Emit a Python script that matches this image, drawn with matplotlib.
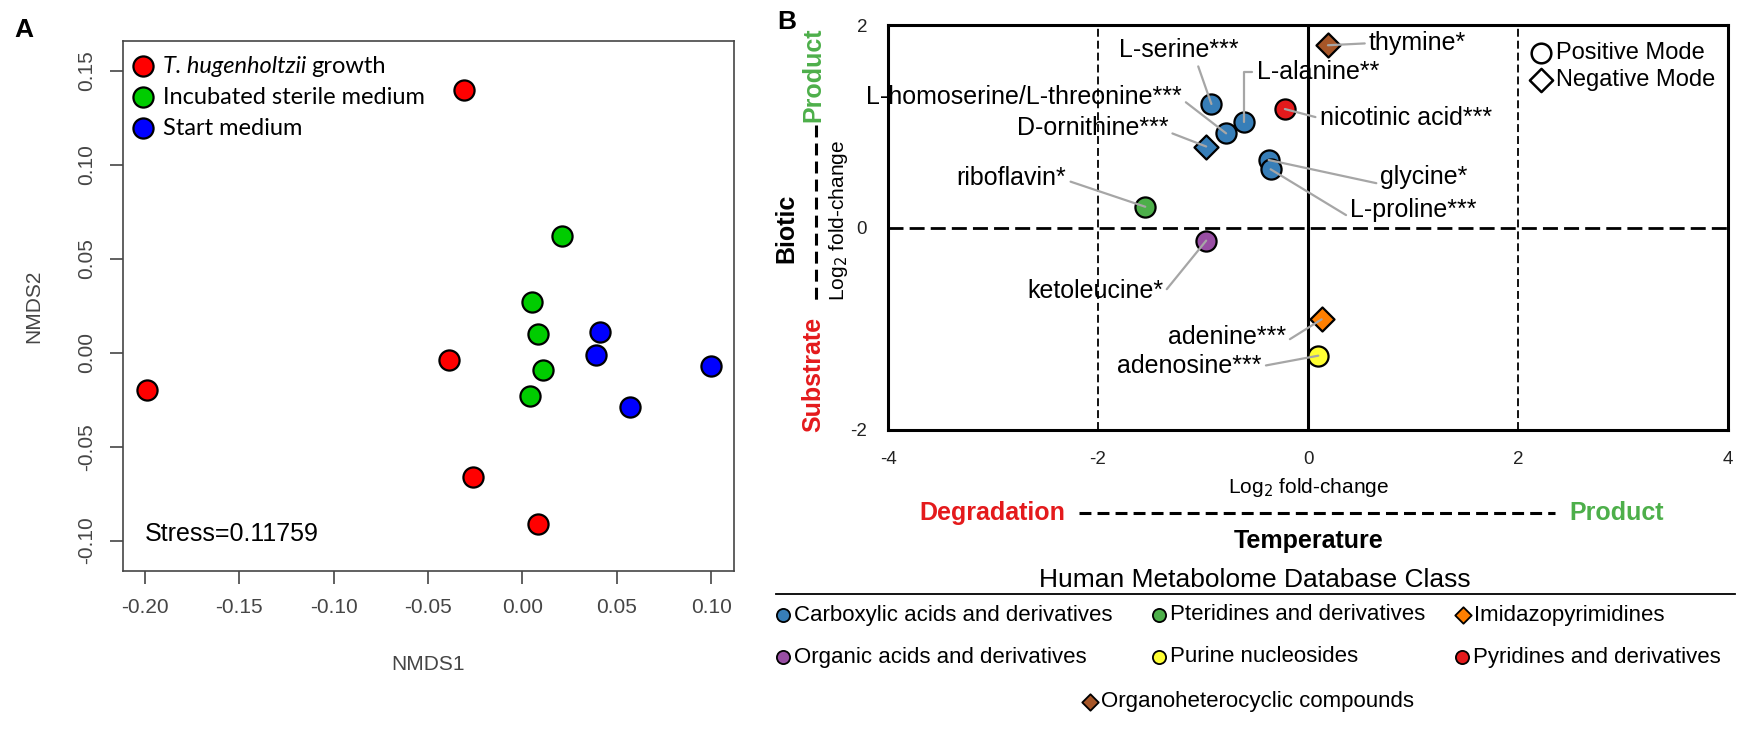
import matplotlib
matplotlib.use('Agg')
import matplotlib.pyplot as plt

plt.rcParams['font.family'] = ['Liberation Sans', 'DejaVu Sans']
plt.rcParams['axes.unicode_minus'] = False

# ---- panel A data (NMDS scores) ----
growth_x = [-0.199, -0.039, -0.031, -0.026, 0.008]
growth_y = [-0.020, -0.004, 0.140, -0.066, -0.091]
sterile_x = [0.021, 0.005, 0.008, 0.011, 0.004]
sterile_y = [0.062, 0.027, 0.010, -0.009, -0.023]
start_x = [0.041, 0.039, 0.057, 0.100]
start_y = [0.011, -0.001, -0.029, -0.007]
stress = 0.11759

# ---- panel B data (log2 fold changes) ----
met_names = ['L-serine***', 'L-alanine**', 'L-homoserine/L-threonine***', 'D-ornithine***',
             'riboflavin*', 'nicotinic acid***', 'thymine*', 'glycine*', 'L-proline***',
             'ketoleucine*', 'adenine***', 'adenosine***']
met_temp = [-0.92, -0.61, -0.78, -0.97, -1.55, -0.22, 0.19, -0.375, -0.356, -0.97, 0.13, 0.098]
met_biotic = [1.22, 1.045, 0.93, 0.80, 0.205, 1.17, 1.80, 0.667, 0.575, -0.13, -0.907, -1.266]
met_class = ['Carboxylic acids and derivatives', 'Carboxylic acids and derivatives',
             'Carboxylic acids and derivatives', 'Carboxylic acids and derivatives',
             'Pteridines and derivatives', 'Pyridines and derivatives',
             'Organoheterocyclic compounds', 'Carboxylic acids and derivatives',
             'Carboxylic acids and derivatives', 'Organic acids and derivatives',
             'Imidazopyrimidines', 'Purine nucleosides']
met_mode = ['pos', 'pos', 'pos', 'neg', 'pos', 'pos', 'neg', 'pos', 'pos', 'pos', 'neg', 'pos']

class_colors = {
    'Carboxylic acids and derivatives': '#377eb8',
    'Pteridines and derivatives': '#4daf4a',
    'Imidazopyrimidines': '#ff7f00',
    'Organic acids and derivatives': '#984ea3',
    'Purine nucleosides': '#ffff33',
    'Pyridines and derivatives': '#e41a1c',
    'Organoheterocyclic compounds': '#a65628',
}
class_marker = {'Imidazopyrimidines': 'D', 'Organoheterocyclic compounds': 'D'}

# label placement (data coords of panel B): x, y, ha, relpos, connection
straight = 'arc3'
label_pos = [(-1.23, 1.75, 'center', (0.65, 0.0), straight),
             (-0.49, 1.54, 'left', (0.0, 0.5), 'angle,angleA=0,angleB=90,rad=0'),
             (-1.20, 1.29, 'right', (1.0, 0.4), straight),
             (-1.33, 0.98, 'right', (1.0, 0.35), straight),
             (-2.30, 0.49, 'right', (1.0, 0.4), straight),
             (0.11, 1.08, 'left', (0.0, 0.5), straight),
             (0.58, 1.82, 'left', (0.0, 0.5), straight),
             (0.69, 0.50, 'left', (0.0, 0.2), straight),
             (0.40, 0.17, 'left', (0.0, 0.2), straight),
             (-1.38, -0.63, 'right', (1.0, 0.4), straight),
             (-0.21, -1.08, 'right', (1.0, 0.3), straight),
             (-0.44, -1.37, 'right', (1.0, 0.5), straight)]

W, H = 1754, 729
fig = plt.figure(figsize=(W / 100, H / 100), dpi=100)


def box(l, t, r, b):
    return [l / W, 1 - b / H, (r - l) / W, (b - t) / H]


# overlay in pixel coordinates for decorations
ov = fig.add_axes([0, 0, 1, 1], zorder=10)
ov.set_xlim(0, W)
ov.set_ylim(H, 0)
ov.axis('off')
ov.patch.set_alpha(0)

# ================= panel A =================
axA = fig.add_axes(box(123, 41, 734, 571))
grey = '#454545'
axA.scatter(growth_x, growth_y, s=210, c='#ff0000', edgecolors='k', linewidths=1.6, zorder=3)
axA.scatter(sterile_x, sterile_y, s=210, c='#00cc00', edgecolors='k', linewidths=1.6, zorder=3)
axA.scatter(start_x, start_y, s=210, c='#0000ff', edgecolors='k', linewidths=1.6, zorder=3)
axA.set_xlim(-0.2115, 0.112)
axA.set_ylim(-0.1162, 0.166)
axA.set_xticks([-0.20, -0.15, -0.10, -0.05, 0.00, 0.05, 0.10])
axA.set_xticklabels(['%.2f' % v for v in axA.get_xticks()])
axA.set_yticks([-0.10, -0.05, 0.00, 0.05, 0.10, 0.15])
axA.set_yticklabels(['%.2f' % v for v in axA.get_yticks()], rotation=90, va='center')
axA.tick_params(length=9.5, width=1.2, labelsize=15, colors=grey, pad=10)
for sp in axA.spines.values():
    sp.set_color(grey)
    sp.set_linewidth(1.2)
axA.text(0.035, 0.07, 'Stress=%.5f' % stress, transform=axA.transAxes, fontsize=18,
         va='center', ha='left')

ov.text(428, 665, 'NMDS1', ha='center', va='center', fontsize=15, color=grey)
ov.text(34, 306, 'NMDS2', ha='center', va='center', fontsize=15, color=grey, rotation=90)
ov.text(14, 30, 'A', ha='left', va='center', fontsize=19, fontweight='bold')
ov.text(777, 22, 'B', ha='left', va='center', fontsize=19, fontweight='bold')

# legend A
leg_items = [('#ff0000', None), ('#00cc00', 'Incubated sterile medium'), ('#0000ff', 'Start medium')]
for i, (col, lab) in enumerate(leg_items):
    yy = 66 + i * 31
    ov.scatter([143], [yy], s=210, c=col, edgecolors='k', linewidths=1.6)
    if lab:
        ov.text(163, yy, lab, ha='left', va='center', fontsize=17, family='Lato')
t_it = ov.text(163, 66, 'T. hugenholtzii', ha='left', va='center', fontsize=17,
               family='Lato', style='italic')
fig.canvas.draw()
bb = t_it.get_window_extent()
ov.text(bb.x1 + 5, 66, 'growth', ha='left', va='center', fontsize=17, family='Lato')

# ================= panel B =================
axB = fig.add_axes(box(888, 25, 1728, 430))
axB.set_xlim(-4, 4)
axB.set_ylim(-2, 2)
axB.set_xticks([-4, -2, 0, 2, 4])
axB.set_yticks([-2, 0, 2])
axB.tick_params(length=0, labelsize=13.5, colors='#222222', pad=15)
for sp in axB.spines.values():
    sp.set_linewidth(2.2)
axB.axhline(0, color='k', lw=2.0, dashes=(5.4, 2.2), zorder=1)
axB.axvline(0, color='k', lw=2.2, zorder=1)
for xv in (-2, 2):
    axB.axvline(xv, color='k', lw=1.3, dashes=(4.4, 2.2), zorder=1)

for i, name in enumerate(met_names):
    mk = 'o' if met_mode[i] == 'pos' else 'D'
    sz = 210 if mk == 'o' else 150
    axB.scatter([met_temp[i]], [met_biotic[i]], s=sz, marker=mk,
                c=class_colors[met_class[i]], edgecolors='k', linewidths=1.6, zorder=4)
    tx, ty, ha, rp, cs = label_pos[i]
    axB.annotate(name, xy=(met_temp[i], met_biotic[i]), xytext=(tx, ty), ha=ha, va='center',
                 fontsize=18, zorder=5, annotation_clip=False,
                 arrowprops=dict(arrowstyle='-', color='#a6a6a6', lw=1.6, connectionstyle=cs,
                                 shrinkA=1, shrinkB=0, relpos=rp))

axB.set_xlabel('Log$_2$ fold-change', fontsize=15, labelpad=6)
ov.text(839, 221, 'Log$_2$ fold-change', rotation=90, ha='center', va='center', fontsize=15)

# mode legend
ov.scatter([1541], [53], s=200, marker='o', facecolors='white', edgecolors='k', linewidths=1.8)
ov.scatter([1541], [80], s=140, marker='D', facecolors='white', edgecolors='k', linewidths=1.8)
ov.text(1556, 53, 'Positive Mode', ha='left', va='center', fontsize=17)
ov.text(1556, 80, 'Negative Mode', ha='left', va='center', fontsize=17)

# axis meaning decorations
green_t = '#4daf4a'
red_t = '#e41a1c'
ov.text(813, 75, 'Product', rotation=90, ha='center', va='center', fontsize=18,
        fontweight='bold', color=green_t)
ov.text(813, 374, 'Substrate', rotation=90, ha='center', va='center', fontsize=18,
        fontweight='bold', color=red_t)
ov.text(786, 228, 'Biotic', rotation=90, ha='center', va='center', fontsize=18,
        fontweight='bold')
ov.plot([816, 816], [125, 303], color='k', lw=2.2, dashes=(3.9, 2))
ov.text(992, 513, 'Degradation', ha='center', va='center', fontsize=18,
        fontweight='bold', color=red_t)
ov.text(1617, 513, 'Product', ha='center', va='center', fontsize=18,
        fontweight='bold', color=green_t)
ov.plot([1079, 1555], [513, 513], color='k', lw=2.2, dashes=(3.9, 2))
ov.text(1309, 541, 'Temperature', ha='center', va='center', fontsize=18, fontweight='bold')

# HMDB class legend
ov.text(1255, 580, 'Human Metabolome Database Class', ha='center', va='center', fontsize=19)
ov.plot([776, 1735], [594, 594], color='k', lw=1.3)
leg_rows = [('Carboxylic acids and derivatives', 783, 615),
            ('Pteridines and derivatives', 1159, 615),
            ('Imidazopyrimidines', 1463, 615),
            ('Organic acids and derivatives', 783, 657),
            ('Purine nucleosides', 1159, 657),
            ('Pyridines and derivatives', 1462, 657),
            ('Organoheterocyclic compounds', 1090, 702)]
for lab, xx, yy in leg_rows:
    mk = class_marker.get(lab, 'o')
    ov.scatter([xx], [yy], s=90 if mk == 'o' else 70, marker=mk, c=class_colors[lab],
               edgecolors='k', linewidths=1.3)
    ov.text(xx + 11, yy, lab, ha='left', va='center', fontsize=16)

fig.savefig('out.png', dpi=100)
